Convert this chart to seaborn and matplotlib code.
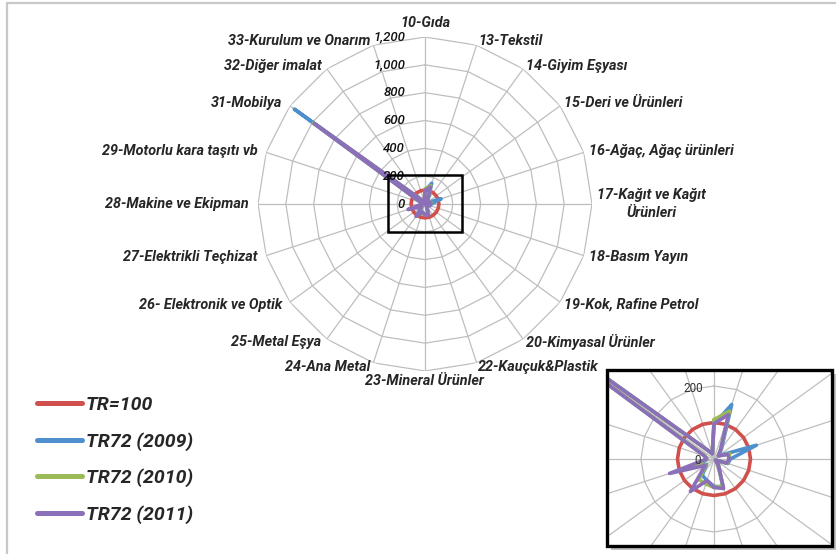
import matplotlib
matplotlib.use("Agg")
import matplotlib.pyplot as plt
import numpy as np
import pandas as pd
import seaborn as sns
from matplotlib.lines import Line2D
from matplotlib.patches import Rectangle

sns.set_style("white")
plt.rcParams["font.family"] = ["Roboto", "DejaVu Sans"]

SECTORS = [
    "10-Gıda", "13-Tekstil", "14-Giyim Eşyası", "15-Deri ve Ürünleri",
    "16-Ağaç, Ağaç ürünleri", "17-Kağıt ve Kağıt\nÜrünleri", "18-Basım Yayın",
    "19-Kok, Rafine Petrol", "20-Kimyasal Ürünler", "22-Kauçuk&Plastik",
    "23-Mineral Ürünler", "24-Ana Metal", "25-Metal Eşya", "26- Elektronik ve Optik",
    "27-Elektrikli Teçhizat", "28-Makine ve Ekipman", "29-Motorlu kara taşıtı vb",
    "31-Mobilya", "32-Diğer imalat", "33-Kurulum ve Onarım",
]
TR100 = [100] * 20
TR72_2009 = [95, 157, 35, 15, 122, 45, 40, 5, 20, 80, 75, 62, 55, 25, 45, 20, 25, 1160, 30, 15]
TR72_2010 = [108, 138, 30, 15, 45, 40, 38, 5, 20, 78, 78, 72, 70, 28, 60, 20, 25, 990, 30, 15]
TR72_2011 = [97, 128, 30, 15, 40, 42, 36, 5, 20, 85, 78, 62, 110, 30, 128, 20, 28, 985, 30, 15]

SERIES = {"TR=100": TR100, "TR72 (2009)": TR72_2009,
          "TR72 (2010)": TR72_2010, "TR72 (2011)": TR72_2011}
COLORS = {"TR=100": "#D0504D", "TR72 (2009)": "#4F8FCD",
          "TR72 (2010)": "#9BBB59", "TR72 (2011)": "#8B6FB8"}
RINGS = [0, 200, 400, 600, 800, 1000, 1200]
INSET_RINGS = [200, 400]
GRID = "#BEBEBE"

W, H = 837, 554
n = len(SECTORS)
angles = np.linspace(0, 2 * np.pi, n, endpoint=False)

rows = []
for name, vals in SERIES.items():
    for k in range(n + 1):
        rows.append({"series": name, "theta": angles[k] if k < n else 2 * np.pi,
                     "value": vals[k % n]})
df = pd.DataFrame(rows)


def px_axes(cx, cy, rad):
    # polar axes whose circle is centred at (cx, cy) pixels (from top-left)
    return [(cx - rad) / W, (H - cy - rad) / H, 2 * rad / W, 2 * rad / H]


def setup_polar(ax, rmax, rings, clip=None):
    ax.set_theta_zero_location("N")
    ax.set_theta_direction(-1)
    ax.grid(False)
    ax.spines["polar"].set_visible(False)
    ax.set_facecolor("none")
    closed = np.append(angles, angles[0])
    for r in rings:
        ax.plot(closed, [r] * (n + 1), color=GRID, lw=0.9, zorder=1)
    for a in angles:
        ax.plot([a, a], [0, rmax], color=GRID, lw=0.9, zorder=1)
    sns.lineplot(data=df, x="theta", y="value", hue="series", hue_order=list(SERIES),
                 palette=COLORS, sort=False, estimator=None, lw=2.6, legend=False,
                 ax=ax, zorder=3)
    ax.set_ylim(0, rmax)
    ax.set_xticks([])
    ax.set_yticks([])
    ax.set_xlabel("")
    ax.set_ylabel("")
    if clip is not None:
        for ln in ax.lines:
            ln.set_clip_path(clip)


fig = plt.figure(figsize=(W / 100, H / 100), dpi=100)

# slide frame
fig.add_artist(Line2D([7 / W, 7 / W, 1], [0, 1 - 3 / H, 1 - 3 / H],
                      transform=fig.transFigure, color="#C8C8C8", lw=1.6))

# main radar
ax = fig.add_axes(px_axes(425, 204, 167), projection="polar")
setup_polar(ax, 1200, RINGS)

label_font = dict(fontsize=10.4, fontweight="bold", style="italic")
for a, lab in zip(angles, SECTORS):
    s, c = np.sin(a), np.cos(a)
    if abs(s) < 0.01:
        ha, va = "center", ("bottom" if c > 0 else "top")
        off = (0, 7 if c > 0 else -3)
    else:
        ha, va = ("left", "center") if s > 0 else ("right", "center")
        off = (5 * s if s > 0 else 9 * s, 4 * c)
    ax.annotate(lab, xy=(a, 1200), xytext=off, textcoords="offset pixels",
                ha=ha, va=va, multialignment="center", annotation_clip=False,
                linespacing=1.3, **label_font)

for r in RINGS:
    ax.annotate(f"{r:,}", xy=(0, r), xytext=(-20, 0), textcoords="offset pixels",
                ha="right", va="center", fontsize=9.5, style="italic",
                fontweight="medium", color="#111111")

# zoom window marker on main chart
fig.add_artist(Rectangle((388 / W, 1 - 232 / H), 74 / W, 57 / H, fill=False,
                         ec="black", lw=1.8, transform=fig.transFigure, zorder=5))

# inset (zoom of the centre)
x0, y0, x1, y1 = 607, 370, 832, 546
fig.add_artist(Rectangle(((x0 + 4) / W, 1 - (y1 + 4) / H), (x1 - x0) / W, (y1 - y0) / H,
                         fc="#9A9A9A", ec="none", alpha=0.6,
                         transform=fig.transFigure, zorder=-2))
fig.add_artist(Rectangle((x0 / W, 1 - y1 / H), (x1 - x0) / W, (y1 - y0) / H,
                         fc="white", ec="none", transform=fig.transFigure, zorder=-1))
clip = Rectangle((x0 / W, 1 - y1 / H), (x1 - x0) / W, (y1 - y0) / H,
                 transform=fig.transFigure)
axi = fig.add_axes(px_axes(714, 459, 146), projection="polar")
setup_polar(axi, 400, INSET_RINGS, clip=clip)
axi.annotate("200", xy=(0, 200), xytext=(-11, -3), textcoords="offset pixels",
             ha="right", va="center", fontsize=8.5, color="#333333")
axi.annotate("0", xy=(0, 0), xytext=(-13, -1), textcoords="offset pixels",
             ha="right", va="center", fontsize=8.5, color="#333333")
fig.add_artist(Rectangle((x0 / W, 1 - y1 / H), (x1 - x0) / W, (y1 - y0) / H,
                         fill=False, ec="black", lw=2.4, transform=fig.transFigure,
                         zorder=6))

# legend
handles = [Line2D([], [], color=COLORS[k], lw=3.6, solid_capstyle="round") for k in SERIES]
fig.legend(handles, list(SERIES), loc="upper left", bbox_to_anchor=(37 / W, 1 - 396 / H),
           frameon=False, handlelength=2.3, handletextpad=0.2, labelspacing=0.92,
           borderpad=0, borderaxespad=0,
           prop=dict(size=14, weight="bold", style="italic"))

fig.savefig("out.png", dpi=100)
